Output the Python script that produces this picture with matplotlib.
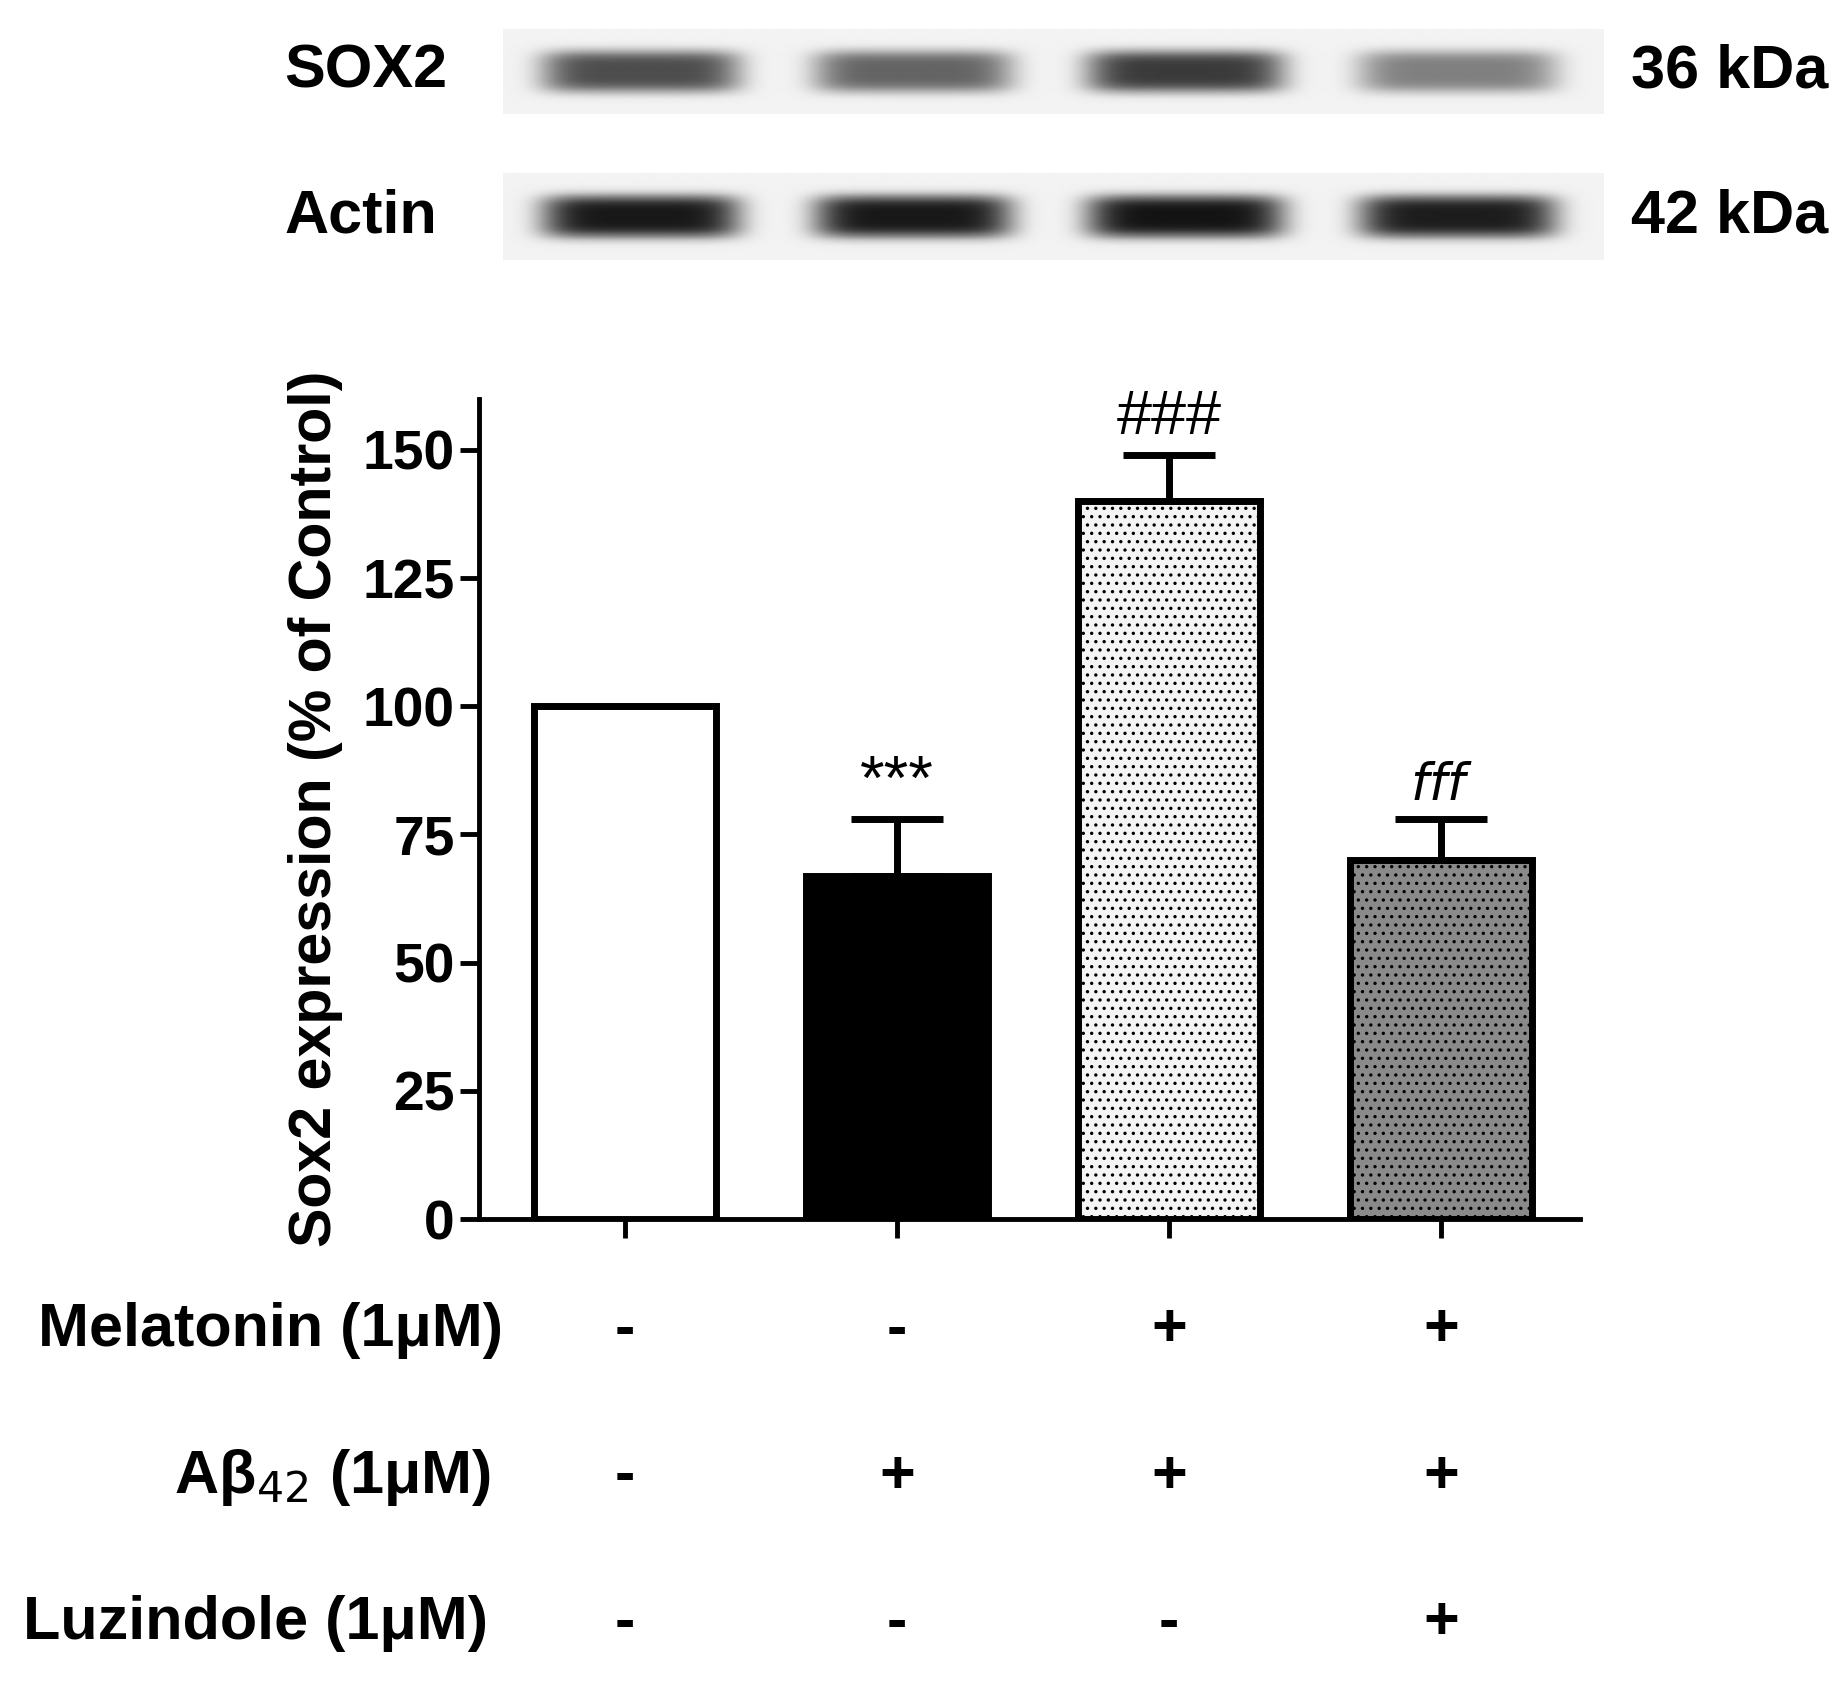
"""Sox2 western blot quantification with treatment table."""
import matplotlib

matplotlib.use("Agg")

import matplotlib.pyplot as plt
import numpy as np

plt.rcParams["font.family"] = ["Liberation Sans", "DejaVu Sans"]
plt.rcParams["hatch.linewidth"] = 1.2

# data
groups = ["Control", "Abeta", "Mel+Abeta", "Mel+Abeta+Luz"]
sox2_mean = [100, 67, 140, 70]
sox2_err = [0, 11, 9, 8]
marks = ["", "***", "###", "fff"]
melatonin = ["-", "-", "+", "+"]
abeta = ["-", "+", "+", "+"]
luzindole = ["-", "-", "-", "+"]
sox2_band = [0.72, 0.62, 0.80, 0.50]
actin_band = [0.95, 0.95, 0.97, 0.93]

W, H = 1560, 1440
S = 1846 / 1560 * 1.2  # font scale from reference px to figure px
fig = plt.figure(figsize=(18.46, 16.88), dpi=100)


def frac(x0, y0, x1, y1):
    return [x0 / W, 1 - y1 / H, (x1 - x0) / W, (y1 - y0) / H]


def fs(v):
    return v * S


# blot strips
def band_image(levels, nx=930, ny=75):
    xs = np.linspace(0, 4, nx)
    ys = np.linspace(-1, 1, ny)
    img = np.zeros((ny, nx))
    for i, lv in enumerate(levels):
        c = 0.5 + i * 0.99
        px = np.exp(-(np.abs(xs - c) / 0.36) ** 6)
        py = np.exp(-(ys / 0.5) ** 4)
        img += lv * np.outer(py, px)
    return 0.95 - 0.9 * np.clip(img, 0, 1)


for (y0, y1), levels, name, kda in [((25, 97), sox2_band, "SOX2", "36 kDa"),
                                     ((148, 222), actin_band, "Actin", "42 kDa")]:
    bax = fig.add_axes(frac(425, y0, 1355, y1))
    bax.imshow(band_image(levels), cmap="gray", vmin=0, vmax=1, aspect="auto")
    bax.axis("off")
    fig.text(240 / W, 1 - (y0 + y1) / 2 / H, name, fontsize=fs(31), fontweight="bold", va="center")
    fig.text(1378 / W, 1 - (y0 + y1) / 2 / H, kda, fontsize=fs(31), fontweight="bold", va="center")

# bar chart
ax = fig.add_axes(frac(405, 340, 1335, 1040))
x = np.arange(len(groups))
faces = ["white", "black", "#f4f4f4", "#8a8a8a"]
hatches = [None, None, "..", ".."]
for i in x:
    ax.bar(i, sox2_mean[i], width=0.67, color=faces[i], edgecolor="black", linewidth=5,
           hatch=hatches[i], zorder=2)
    if sox2_err[i]:
        ax.errorbar(i, sox2_mean[i], yerr=[[0], [sox2_err[i]]], color="black", elinewidth=5,
                    capsize=33, capthick=5, zorder=3)
for i, m in enumerate(marks):
    if not m:
        continue
    top = sox2_mean[i] + sox2_err[i] + 1.5
    if m == "fff":
        ax.text(i, top, "$fff$", ha="center", va="bottom", fontsize=fs(26), fontfamily="serif")
    else:
        ax.text(i, top, m, ha="center", va="bottom", fontsize=fs(32))

ax.set_xlim(-0.535, 3.51)
ax.set_ylim(0, 160)
ax.set_yticks([0, 25, 50, 75, 100, 125, 150])
ax.set_xticks(x)
ax.set_xticklabels([])
ax.spines["top"].set_visible(False)
ax.spines["right"].set_visible(False)
for s in ("left", "bottom"):
    ax.spines[s].set_linewidth(3.5)
ax.tick_params(width=3.5, length=14, labelsize=fs(28))
for lab in ax.get_yticklabels():
    lab.set_fontweight("bold")
ax.set_ylabel("Sox2 expression (% of Control)", fontsize=fs(30), fontweight="bold", labelpad=14)

# treatment table
rows = [("Melatonin (1μM)", melatonin, 1135, 425), ("Aβ$_{42}$ (1μM)", abeta, 1260, 415),
        ("Luzindole (1μM)", luzindole, 1385, 412)]
for label, signs, yy, xr in rows:
    fig.text(xr / W, 1 - yy / H, label, fontsize=fs(31), fontweight="bold", ha="right", va="center")
    for i, s in enumerate(signs):
        xf = (405 + (i + 0.535) / 4.045 * 930) / W
        fig.text(xf, 1 - yy / H, s, fontsize=fs(31), fontweight="bold", ha="center", va="center")

fig.savefig("out.png", dpi=100)
